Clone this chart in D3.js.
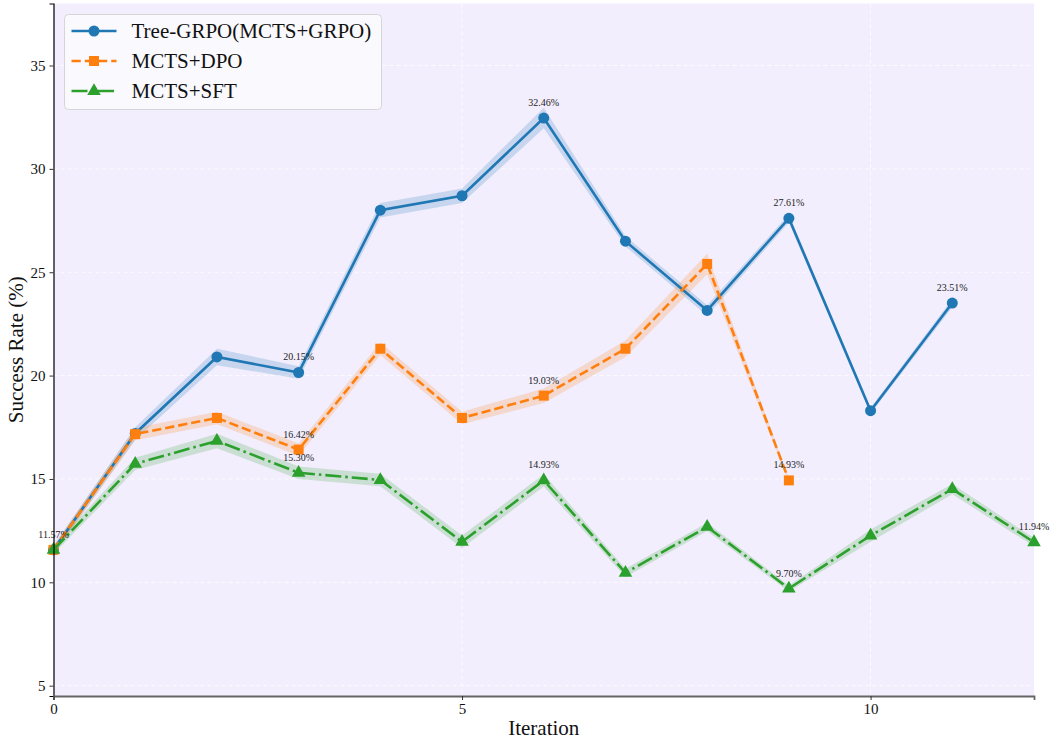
<!DOCTYPE html>
<html>
<head>
<meta charset="utf-8">
<script src="https://cdn.jsdelivr.net/npm/d3@7"></script>
<style>
  html, body { margin: 0; padding: 0; background: #ffffff; }
  svg { display: block; font-family: "Liberation Serif", "DejaVu Serif", serif; }
</style>
</head>
<body>
<svg id="chart" width="1050" height="740"></svg>
<script>
// Success rate per iteration for each training scheme
const grpoIter = [0, 1, 2, 3, 4, 5, 6, 7, 8, 9, 10, 11];
const grpoVals = [11.57, 17.2, 20.9, 20.15, 28.0, 28.7, 32.46, 26.5, 23.15, 27.61, 18.3, 23.51];
const grpoErr  = [0.2, 0.3, 0.4, 0.3, 0.35, 0.35, 0.5, 0.25, 0.25, 0.2, 0.15, 0.2];

const dpoIter = [0, 1, 2, 3, 4, 5, 6, 7, 8, 9];
const dpoVals = [11.57, 17.17, 17.95, 16.42, 21.3, 17.95, 19.03, 21.3, 25.4, 14.93];
const dpoErr  = [0.2, 0.3, 0.3, 0.3, 0.3, 0.3, 0.35, 0.4, 0.5, 0.1];

const sftIter = [0, 1, 2, 3, 4, 5, 6, 7, 8, 9, 10, 11, 12];
const sftVals = [11.57, 15.73, 16.84, 15.30, 14.95, 11.96, 14.93, 10.46, 12.68, 9.70, 12.26, 14.51, 11.94];
const sftErr  = [0.2, 0.3, 0.35, 0.3, 0.3, 0.3, 0.3, 0.2, 0.2, 0.15, 0.3, 0.25, 0.2];

const xTicks = [0, 5, 10];
const yTicks = [5, 10, 15, 20, 25, 30, 35];

const series = [
  { name: "Tree-GRPO(MCTS+GRPO)", x: grpoIter, y: grpoVals, e: grpoErr, color: "#1f77b4", dash: null, marker: "circle" },
  { name: "MCTS+DPO", x: dpoIter, y: dpoVals, e: dpoErr, color: "#ff7f0e", dash: "9.25,4", marker: "square" },
  { name: "MCTS+SFT", x: sftIter, y: sftVals, e: sftErr, color: "#2ca02c", dash: "16,4,2.5,4", marker: "triangle" }
];

const plot = { left: 53.5, right: 1034, top: 3.5, bottom: 696 };
const svg = d3.select("#chart");

const x = d3.scaleLinear().domain([0, 12]).range([plot.left, plot.right]);
const y = d3.scaleLinear().domain([4.5, 38]).range([plot.bottom, plot.top]);

// plot background
svg.append("rect")
  .attr("x", plot.left).attr("y", plot.top)
  .attr("width", plot.right - plot.left).attr("height", plot.bottom - plot.top)
  .attr("fill", "#f2eefd");

// grid
const grid = svg.append("g");
grid.selectAll("line.h").data(yTicks).join("line")
  .attr("x1", plot.left).attr("x2", plot.right)
  .attr("y1", d => y(d)).attr("y2", d => y(d))
  .attr("stroke", "#ffffff").attr("stroke-width", 1).attr("stroke-dasharray", "4,3").attr("opacity", 0.8);
grid.selectAll("line.v").data(xTicks).join("line")
  .attr("y1", plot.top).attr("y2", plot.bottom)
  .attr("x1", d => x(d)).attr("x2", d => x(d))
  .attr("stroke", "#ffffff").attr("stroke-width", 1).attr("stroke-dasharray", "4,3").attr("opacity", 0.8);

const body = svg.append("g");

const symbolOf = m => m === "circle" ? d3.symbolCircle : m === "square" ? d3.symbolSquare : d3.symbolTriangle;
const sizeOf = m => m === "circle" ? 95 : m === "square" ? 100 : 80;

// shaded bands
series.forEach(s => {
  const pts = s.x.map((d, i) => ({ x: d, y: s.y[i], e: s.e[i] }));
  body.append("path")
    .datum(pts)
    .attr("d", d3.area().x(d => x(d.x)).y0(d => y(d.y - d.e)).y1(d => y(d.y + d.e)))
    .attr("fill", s.color).attr("opacity", 0.2);
});

// lines and markers
series.forEach(s => {
  const pts = s.x.map((d, i) => ({ x: d, y: s.y[i] }));
  body.append("path")
    .datum(pts)
    .attr("d", d3.line().x(d => x(d.x)).y(d => y(d.y)))
    .attr("fill", "none").attr("stroke", s.color).attr("stroke-width", 2.6)
    .attr("stroke-dasharray", s.dash);
  body.selectAll(null).data(pts).join("path")
    .attr("transform", d => `translate(${x(d.x)},${y(d.y)})`)
    .attr("d", d3.symbol().type(symbolOf(s.marker)).size(sizeOf(s.marker)))
    .attr("fill", s.color);
});

// value labels on every third iteration and on the last one (shared start drawn once)
const seen = new Set();
const labels = [];
series.forEach(s => {
  s.x.forEach((d, i) => {
    if (d % 3 === 0 || i === s.x.length - 1) {
      const key = d + ":" + s.y[i];
      if (!seen.has(key)) { seen.add(key); labels.push({ x: d, y: s.y[i] }); }
    }
  });
});
svg.append("g").selectAll("text").data(labels).join("text")
  .attr("x", d => x(d.x)).attr("y", d => y(d.y) - 12)
  .attr("text-anchor", "middle")
  .attr("font-size", 10).attr("fill", "#222")
  .text(d => d.y.toFixed(2) + "%");

// axes
const yAxis = svg.append("g").attr("transform", `translate(${plot.left},0)`)
  .call(d3.axisLeft(y).tickValues(yTicks).tickSize(4).tickPadding(4).tickFormat(d3.format("d")));
yAxis.select(".domain").attr("stroke", "#000").attr("stroke-width", 1.2);
yAxis.selectAll(".tick line").attr("stroke", "#333");
yAxis.selectAll(".tick text").attr("font-size", 15).attr("fill", "#111")
  .attr("font-family", "Liberation Serif, serif");

const xAxis = svg.append("g").attr("transform", `translate(0,${plot.bottom})`)
  .call(d3.axisBottom(x).tickValues(xTicks).tickSize(4).tickPadding(3).tickFormat(d3.format("d")));
xAxis.select(".domain").attr("stroke", "#666").attr("stroke-width", 1.8);
xAxis.selectAll(".tick line").attr("stroke", "#333");
xAxis.selectAll(".tick text").attr("font-size", 15).attr("fill", "#111")
  .attr("font-family", "Liberation Serif, serif");

svg.append("text")
  .attr("x", (plot.left + plot.right) / 2).attr("y", 735)
  .attr("text-anchor", "middle").attr("font-size", 21).attr("fill", "#111")
  .text("Iteration");

svg.append("text")
  .attr("transform", `translate(23,${(plot.top + plot.bottom) / 2}) rotate(-90)`)
  .attr("text-anchor", "middle").attr("font-size", 21).attr("fill", "#111")
  .text("Success Rate (%)");

// legend
const legend = svg.append("g").attr("transform", "translate(64.5,14.5)");
legend.append("rect")
  .attr("width", 317).attr("height", 95).attr("rx", 4)
  .attr("fill", "#faf9fe").attr("stroke", "#d6d6d6").attr("stroke-width", 1);
series.forEach((s, i) => {
  const g = legend.append("g").attr("transform", `translate(0,${16.5 + i * 30})`);
  g.append("line").attr("x1", 7).attr("x2", 52).attr("y1", 0).attr("y2", 0)
    .attr("stroke", s.color).attr("stroke-width", 2.6).attr("stroke-dasharray", s.dash);
  g.append("path").attr("transform", "translate(29.5,0)")
    .attr("d", d3.symbol().type(symbolOf(s.marker)).size(sizeOf(s.marker))).attr("fill", s.color);
  g.append("text").attr("x", 67).attr("y", 7)
    .attr("font-size", 21).attr("fill", "#111").text(s.name);
});
</script>
</body>
</html>
